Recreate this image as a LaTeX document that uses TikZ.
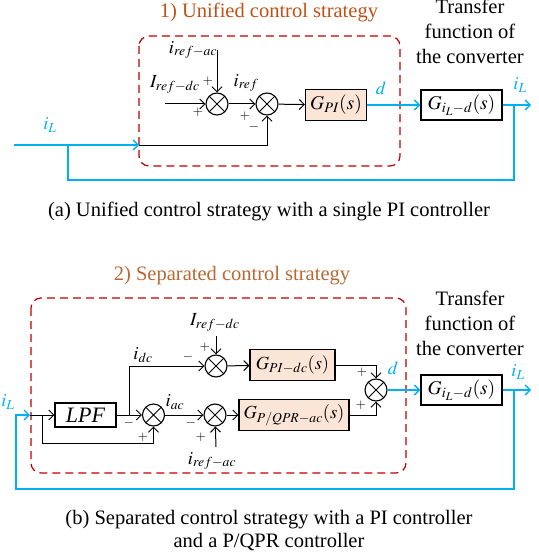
\documentclass[tikz,border=0pt]{standalone}
\usepackage{mathptmx}
\usepackage{fontspec}
\setmainfont{Liberation Serif}
\usetikzlibrary{arrows,arrows.meta,shapes}
\definecolor{SigBlue}{RGB}{0,176,240}
\definecolor{FrameRed}{RGB}{192,0,0}
\definecolor{TitleBrown}{RGB}{192,80,20}
\definecolor{TitleOrange}{RGB}{184,104,50}
\definecolor{BoxFill}{RGB}{251,229,214}

\tikzset{
  wire/.style={draw=black, line width=1pt},
  sig/.style={draw=SigBlue, line width=1.4pt},
  sumnode/.style={draw, circle, line width=1.1pt, minimum size=22pt, inner sep=0pt,
    path picture={\draw[line width=1pt] (path picture bounding box.north west) -- (path picture bounding box.south east)
      (path picture bounding box.north east) -- (path picture bounding box.south west);}},
  ctrlbox/.style={draw, fill=BoxFill, line width=1.1pt, minimum height=31pt, inner sep=1pt},
  plantbox/.style={draw, fill=white, line width=1.1pt, minimum width=81pt, minimum height=30pt, inner sep=1pt,
    font=\fontsize{19.5}{19.5}\selectfont},
  ctrlframe/.style={draw=FrameRed, line width=1.2pt, dash pattern=on 8pt off 5pt, rounded corners=10pt},
  sgn/.style={font=\fontsize{13}{13}\selectfont, inner sep=0pt},
  lbl/.style={font=\fontsize{18.5}{18.5}\selectfont, inner sep=0pt},
  txt/.style={font=\fontsize{20.5}{25}\selectfont, align=center, inner sep=0pt},
  captxt/.style={font=\fontsize{20.5}{23}\selectfont, align=center, inner sep=0pt}
}

\begin{document}
\begin{tikzpicture}[x=1pt,y=-1pt,>={Straight Barb[length=5pt,width=10pt]}]
\useasboundingbox (0,0) rectangle (538,559);

% (a) unified control strategy
\node[txt, text=TitleBrown] (titleA) at (269,12) {1) Unified control strategy};
\node[txt] (tfA) at (470,31) {Transfer\\function of\\the converter};
\draw[ctrlframe] (139,36) rectangle (400,166);

\node[sumnode] (s1) at (217,104) {};
\node[sumnode] (s2) at (267,104) {};
\node[ctrlbox, minimum width=61pt, font=\fontsize{19.5}{19.5}\selectfont] (gpi) at (336,105) {$G_{PI}(s)$};
\node[plantbox] (plantA) at (461.5,105) {$G_{i_L-d}(s)$};

\coordinate (irefacA) at (217,50);
\coordinate (irefdcA) at (165,104);
\coordinate (inA) at (14,145);
\coordinate (fbA) at (139,145);
\coordinate (jA) at (68,145);
\coordinate (brA) at (514,105);
\coordinate (outA) at (531,105);

\node[lbl] (lirefacA) at (193,50) {$i_{ref-ac}$};
\node[lbl] (lirefdcA) at (175,84) {$I_{ref-dc}$};
\node[lbl] (lirefA) at (246,83) {$i_{ref}$};
\node[lbl, text=SigBlue] (liLA) at (50,125) {$i_L$};
\node[lbl, text=SigBlue] (ldA) at (381,88) {$d$};
\node[lbl, text=SigBlue] (loutA) at (520,85) {$i_L$};
\node[sgn] (p1) at (208,81) {$+$};
\node[sgn] (p2) at (198,112) {$+$};
\node[sgn] (p3) at (245,116) {$+$};
\node[sgn] (m1) at (254,127) {$-$};

\draw[wire,->] (irefacA) -- (s1);
\draw[wire,->] (irefdcA) -- (s1);
\draw[wire,->] (s1) -- (s2);
\draw[wire,->] (s2) -- (gpi);
\draw[wire,->] (fbA) -| (s2);
\draw[sig,->] (inA) -- (fbA);
\draw[sig,->] (gpi) -- (plantA);
\draw[sig,->] (plantA) -- (outA);
\draw[sig] (brA) |- (68,180) -- (jA);

\node[captxt] (capA) at (269,211) {(a) Unified control strategy with a single PI controller};

% (b) separated control strategy
\node[txt, text=TitleOrange] (titleB) at (232,276) {2) Separated control strategy};
\node[txt] (tfB) at (470,323) {Transfer\\function of\\the converter};
\draw[ctrlframe] (31,298) rectangle (406,473);

\node[draw, line width=1.1pt, minimum width=61pt, minimum height=24pt, font=\fontsize{22}{22}\selectfont\itshape] (lpf) at (85.5,415) {LPF};
\node[sumnode] (sa) at (153.5,415) {};
\node[sumnode] (sdc) at (216,366) {};
\node[sumnode] (sac) at (215,415) {};
\node[ctrlbox, minimum width=85pt, font=\fontsize{18.5}{18.5}\selectfont] (gdc) at (292.5,365) {$G_{PI-dc}(s)$};
\node[ctrlbox, minimum width=110pt, font=\fontsize{18.5}{18.5}\selectfont] (gac) at (294,415) {$G_{P/QPR-ac}(s)$};
\node[sumnode] (sout) at (376,390) {};
\node[plantbox] (plantB) at (461.5,390) {$G_{i_L-d}(s)$};

\coordinate (jB) at (30,415);
\coordinate (kB) at (42,415);
\coordinate (kdc) at (129,415);
\coordinate (irefdcB) at (216,336);
\coordinate (irefacB) at (216,447);
\coordinate (brB) at (514,390);
\coordinate (outB) at (531,390);

\node[lbl, text=SigBlue] (liLB) at (8,402) {$i_L$};
\node[lbl] (lidc) at (143,355) {$i_{dc}$};
\node[lbl] (liac) at (175,402) {$i_{ac}$};
\node[lbl] (lirefdcB) at (215,322) {$I_{ref-dc}$};
\node[lbl] (lirefacB) at (212,461) {$i_{ref-ac}$};
\node[lbl, text=SigBlue] (ldB) at (393,368) {$d$};
\node[lbl, text=SigBlue] (loutB) at (518,372) {$i_L$};
\node[sgn] (q1) at (205,347) {$+$};
\node[sgn] (q2) at (188,357) {$-$};
\node[sgn] (q3) at (129,423) {$-$};
\node[sgn] (q4) at (143,437) {$+$};
\node[sgn] (q5) at (191,423) {$-$};
\node[sgn] (q6) at (201,437) {$+$};
\node[sgn] (q7) at (362,372) {$+$};
\node[sgn] (q8) at (361,405) {$+$};

\draw[wire,->] (jB) -- (lpf);
\draw[wire,->] (kB) -- (42,443) -| (sa);
\draw[wire,->] (lpf) -- (sa);
\draw[wire,->] (kdc) |- (sdc);
\draw[wire,->] (irefdcB) -- (sdc);
\draw[wire,->] (sa) -- (sac);
\draw[wire,->] (irefacB) -- (sac);
\draw[wire,->] (sdc) -- (gdc);
\draw[wire,->] (sac) -- (gac);
\draw[wire,->] (gdc) -| (sout);
\draw[wire,->] (gac) -| (sout);
\draw[sig,->] (sout) -- (plantB);
\draw[sig,->] (plantB) -- (outB);
\draw[sig,->] (brB) |- (16,489) |- (jB);

\node[captxt] (capB) at (269,531) {(b) Separated control strategy with a PI controller\\and a P/QPR controller};
\end{tikzpicture}
\end{document}
